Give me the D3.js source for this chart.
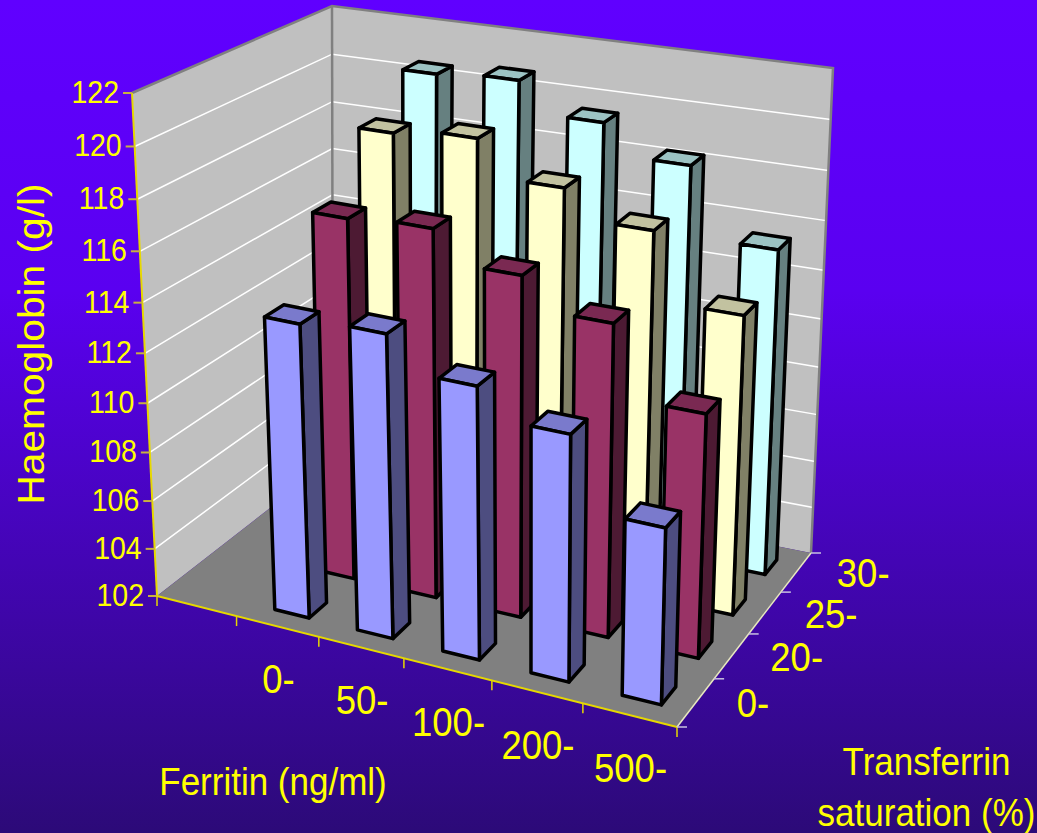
<!DOCTYPE html>
<html>
<head>
<meta charset="utf-8">
<script src="https://cdn.jsdelivr.net/npm/d3@7"></script>
<style>
  html, body { margin: 0; padding: 0; background: #3a0a90; overflow: hidden; }
  text { font-family: "Liberation Sans", Arial, sans-serif; fill: #ffff00; }
</style>
</head>
<body>
<div id="chart"></div>
<script>
// data
const ferritin = ["", "0-", "50-", "100-", "200-", "500-"];
const saturation = ["0-", "20-", "25-", "30-"];
const yTicks = [102, 104, 106, 108, 110, 112, 114, 116, 118, 120, 122];
const sat0 = [null, 113.9, 114.2, 112.9, 111.8, 109.0];
const sat20 = [null, 116.8, 117.0, 115.8, 114.6, 111.8];
const sat25 = [null, 119.1, 119.4, 118.0, 116.9, 114.2];
const sat30 = [null, 120.5, 120.7, 119.5, 118.3, 115.5];
const seriesValues = [sat0, sat20, sat25, sat30];

const faceColors = [
    { front: "#9999ff", side: "#4d4d80", top: "#7a7acc" },
    { front: "#993366", side: "#4d1a33", top: "#7a2952" },
    { front: "#ffffcc", side: "#808066", top: "#c2c2a0" },
    { front: "#ccffff", side: "#668080", top: "#9cc3c3" }
];

const width = 1037, height = 833;

const svg = d3.select("#chart")
    .append("svg")
    .attr("width", width)
    .attr("height", height)
    .style("display", "block");

const grad = svg.append("defs").append("linearGradient")
    .attr("id", "bg").attr("x1", 0).attr("y1", 0).attr("x2", 0).attr("y2", 1);
grad.append("stop").attr("offset", "0%").attr("stop-color", "#6000ff");
grad.append("stop").attr("offset", "35%").attr("stop-color", "#5a00f0");
grad.append("stop").attr("offset", "100%").attr("stop-color", "#2c0a78");
svg.append("rect").attr("width", width).attr("height", height).attr("fill", "url(#bg)");

// unit square -> picture quad
function homography(p0, p1, p2, p3) {
    const dx1 = p1[0] - p2[0], dx2 = p3[0] - p2[0], sx = p0[0] - p1[0] + p2[0] - p3[0];
    const dy1 = p1[1] - p2[1], dy2 = p3[1] - p2[1], sy = p0[1] - p1[1] + p2[1] - p3[1];
    const den = dx1 * dy2 - dx2 * dy1;
    const g = (sx * dy2 - dx2 * sy) / den, h = (dx1 * sy - sx * dy1) / den;
    const a = p1[0] - p0[0] + g * p1[0], b = p3[0] - p0[0] + h * p3[0];
    const d = p1[1] - p0[1] + g * p1[1], e = p3[1] - p0[1] + h * p3[1];
    return (u, v) => {
        const w = g * u + h * v + 1;
        return [(a * u + b * v + p0[0]) / w, (d * u + e * v + p0[1]) / w];
    };
}

// floor and ceiling of the 3d box: front-left, front-right, back-right, back-left
const floorAt = homography([157, 596], [677, 727], [811, 553], [333, 459]);
const ceilAt = homography([132, 93], [691, 192], [833, 68], [332, 6]);

const x = d3.scaleBand().domain(ferritin).range([0, 1]).paddingInner(0.58).paddingOuter(0.29);
const z = d3.scaleBand().domain(saturation).range([0, 1]).paddingInner(0.62).paddingOuter(0.31);
const y = d3.scaleLinear().domain([102, 122]).range([0, 1]);

// small bends: the original's perspective is not a pure homography
const bendFloor = u => u + 0.054 * u * (1 - u);
const bendCeil = u => u + 0.1 * u * (1 - u);
const bendY = t => t - 0.07 * t * (1 - t);

function project(u, v, t) {
    const f = floorAt(bendFloor(u), v), c = ceilAt(bendCeil(u), v), k = bendY(t);
    return [f[0] + (c[0] - f[0]) * k, f[1] + (c[1] - f[1]) * k];
}
const poly = pts => pts.map(p => p.join(",")).join(" ");

// walls and floor
svg.append("polygon")
    .attr("points", poly([project(0, 0, 0), project(0, 1, 0), project(0, 1, 1), project(0, 0, 1)]))
    .attr("fill", "#c0c0c0");
svg.append("polygon")
    .attr("points", poly([project(0, 1, 0), project(1, 1, 0), project(1, 1, 1), project(0, 1, 1)]))
    .attr("fill", "#c0c0c0");
svg.append("polygon")
    .attr("points", poly([project(0, 0, 0), project(1, 0, 0), project(1, 1, 0), project(0, 1, 0)]))
    .attr("fill", "#808080");

// gridlines
yTicks.slice(1, -1).forEach(d => {
    svg.append("polyline")
        .attr("points", poly([project(0, 0, y(d)), project(0, 1, y(d)), project(1, 1, y(d))]))
        .attr("fill", "none")
        .attr("stroke", "#ffffff")
        .attr("stroke-width", 1.5);
});

// wall outline
svg.append("polyline")
    .attr("points", poly([project(0, 0, 1), project(0, 1, 1), project(1, 1, 1), project(1, 1, 0)]))
    .attr("fill", "none")
    .attr("stroke", "#808080")
    .attr("stroke-width", 2.5);
svg.append("line")
    .attr("x1", project(0, 1, 0)[0]).attr("y1", project(0, 1, 0)[1])
    .attr("x2", project(0, 1, 1)[0]).attr("y2", project(0, 1, 1)[1])
    .attr("stroke", "#808080")
    .attr("stroke-width", 2.5);

// bars, back row first
d3.range(saturation.length - 1, -1, -1).forEach(s => {
    const colors = faceColors[s];
    const v0 = z(saturation[s]), v1 = v0 + z.bandwidth();
    ferritin.forEach((cat, i) => {
        const val = seriesValues[s][i];
        if (val == null) return;
        const u0 = x(cat), u1 = u0 + x.bandwidth(), t = y(val);
        const g = svg.append("g")
            .attr("stroke", "#000")
            .attr("stroke-width", 3.5)
            .attr("stroke-linejoin", "round");
        g.append("polygon")
            .attr("points", poly([project(u1, v0, 0), project(u1, v1, 0), project(u1, v1, t), project(u1, v0, t)]))
            .attr("fill", colors.side);
        g.append("polygon")
            .attr("points", poly([project(u0, v0, t), project(u1, v0, t), project(u1, v1, t), project(u0, v1, t)]))
            .attr("fill", colors.top);
        g.append("polygon")
            .attr("points", poly([project(u0, v0, 0), project(u1, v0, 0), project(u1, v0, t), project(u0, v0, t)]))
            .attr("fill", colors.front);
    });
});

// axes
function seg(a, b, color, w) {
    svg.append("line")
        .attr("x1", a[0]).attr("y1", a[1]).attr("x2", b[0]).attr("y2", b[1])
        .attr("stroke", color).attr("stroke-width", w);
}
function label(px, py, str, size, anchor, rotate) {
    svg.append("text")
        .attr("transform", `translate(${px},${py})` + (rotate ? " rotate(-90) scale(1.1,1)" : " scale(1,1.1)"))
        .attr("text-anchor", anchor)
        .style("font-size", size + "px")
        .text(str);
}

seg(project(0, 0, 0), project(0, 0, 1), "#e6d800", 2);
seg(project(0, 0, 0), project(1, 0, 0), "#e6d800", 2);
seg(project(1, 0, 0), project(1, 1, 0), "#e8e8c0", 1.5);

yTicks.forEach(d => {
    const p = project(0, 0, y(d));
    seg([p[0] - 9, p[1]], p, "#c8b040", 2);
    label(p[0] - 13, p[1] + 10, d, 28.5, "end");
});

d3.range(0, ferritin.length + 1).forEach(i => {
    const p = project(i / ferritin.length, 0, 0);
    seg(p, [p[0], p[1] + 10], "#e6d800", 1.5);
});
ferritin.forEach((cat, i) => {
    const p = project((i + 0.5) / ferritin.length, 0, 0);
    label(p[0] + 1, p[1] + 67, cat, 36.5, "middle");
});

const satLabelDx = [57, 65, 66, 67];
d3.range(0, saturation.length + 1).forEach(i => {
    const p = project(1, i / saturation.length, 0);
    seg(p, [p[0] + 10, p[1]], "#c8c0e0", 1.5);
});
saturation.forEach((cat, i) => {
    const p = project(1, (i + 0.5) / saturation.length, 0);
    label(p[0] + satLabelDx[i], p[1] + 15, cat, 36.5, "middle");
});

label(44, 344, "Haemoglobin (g/l)", 37, "middle", true);
label(273, 795, "Ferritin (ng/ml)", 35, "middle");
label(926.5, 775, "Transferrin", 35, "middle");
label(926.5, 826, "saturation (%)", 35, "middle");
</script>
</body>
</html>
